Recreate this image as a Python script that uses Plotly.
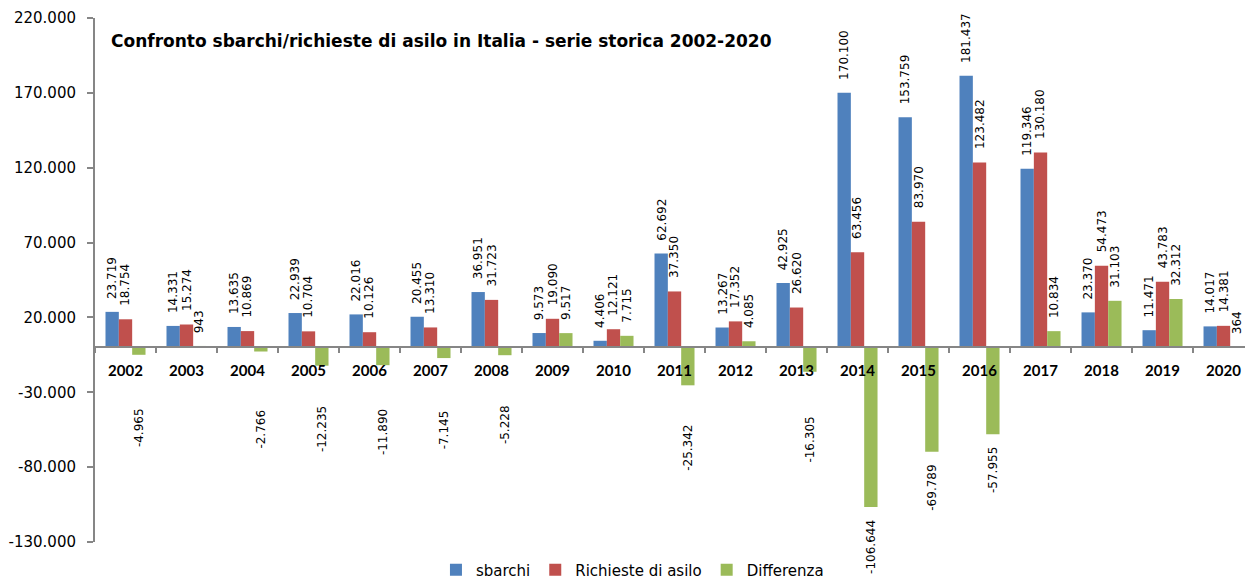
import plotly.graph_objects as go

# Arrivi via mare e richieste di asilo in Italia, 2002-2020
anni = ["2002", "2003", "2004", "2005", "2006", "2007", "2008", "2009", "2010",
        "2011", "2012", "2013", "2014", "2015", "2016", "2017", "2018", "2019", "2020"]
sbarchi = [23719, 14331, 13635, 22939, 22016, 20455, 36951, 9573, 4406,
           62692, 13267, 42925, 170100, 153759, 181437, 119346, 23370, 11471, 14017]
richieste = [18754, 15274, 10869, 10704, 10126, 13310, 31723, 19090, 12121,
             37350, 17352, 26620, 63456, 83970, 123482, 130180, 54473, 43783, 14381]
differenza = [-4965, 943, -2766, -12235, -11890, -7145, -5228, 9517, 7715,
              -25342, 4085, -16305, -106644, -69789, -57955, 10834, 31103, 32312, 364]

y_ticks = [-130000, -80000, -30000, 20000, 70000, 120000, 170000, 220000]

# label placement for short negative bars, moved clear of the year labels
neg_label_top = {"2002": -39000, "2004": -40000, "2005": -38000, "2006": -40000,
                 "2007": -40500, "2008": -37000, "2011": -50500, "2013": -45000}

FONT = "Lato, 'Open Sans', sans-serif"
WIDE = "'DejaVu Sans', sans-serif"
AXIS_GREY = "#868686"
BARGAP = 0.344

W, H = 1245, 580
M_L, M_R, M_T, M_B = 95, 0, 18, 38


def fmt(v):
    return f"{v:,}".replace(",", ".")


series = [
    ("sbarchi", sbarchi, "#4F81BD"),
    ("Richieste di asilo", richieste, "#C0504D"),
    ("Differenza", differenza, "#9BBB59"),
]

fig = go.Figure()
for name, vals, col in series:
    fig.add_trace(go.Bar(x=anni, y=vals, name=name, marker=dict(color=col, line=dict(width=0))))

# value labels, rotated, sitting beyond the end of each bar
bar_w = (1 - BARGAP) / 3
label_font = dict(family=WIDE, size=12, color="#000")
annotations = []
for k, (name, vals, col) in enumerate(series):
    for i, (anno, v) in enumerate(zip(anni, vals)):
        xpos = i + (k - 1) * bar_w
        if v >= 0:
            annotations.append(dict(x=xpos, y=v, xref="x", yref="y", text=fmt(v),
                                    textangle=-90, showarrow=False, yanchor="bottom",
                                    xanchor="center", yshift=11, font=label_font))
        else:
            if k == 2 and anno in neg_label_top:
                ypos, ysh = neg_label_top[anno], 0
            else:
                ypos, ysh = v, -11
            annotations.append(dict(x=xpos, y=ypos, xref="x", yref="y", text=fmt(v),
                                    textangle=-90, showarrow=False, yanchor="top",
                                    xanchor="center", yshift=ysh, font=label_font))

# chart title inside the plot area (paper coords from pixel offsets)
plot_w, plot_h = W - M_L - M_R, H - M_T - M_B
annotations.append(dict(x=(109 - M_L) / plot_w, y=1 - (41 - M_T) / plot_h,
                        xref="paper", yref="paper",
                        text="<b>Confronto sbarchi/richieste di asilo in Italia - serie storica 2002-2020</b>",
                        showarrow=False, xanchor="left", yanchor="middle",
                        font=dict(family=WIDE, size=17, color="#000")))

fig.update_layout(
    width=W, height=H,
    margin=dict(l=M_L, r=M_R, t=M_T, b=M_B, autoexpand=False),
    paper_bgcolor="white", plot_bgcolor="white",
    barmode="group", bargap=BARGAP, bargroupgap=0,
    font=dict(family=FONT, size=15, color="#000"),
    showlegend=True,
    legend=dict(orientation="h", xref="container", yref="container",
                x=0.508, xanchor="center", y=1 - 570 / H, yanchor="middle",
                font=dict(family=WIDE, size=15), traceorder="normal"),
    annotations=annotations,
)

fig.update_xaxes(
    type="category", range=[-0.5, 18.352],
    anchor="free", position=130000 / 350000,
    showline=True, linecolor=AXIS_GREY, linewidth=2,
    ticks="outside", tickson="boundaries", ticklen=5, tickcolor=AXIS_GREY, tickwidth=2,
    tickfont=dict(family=FONT, size=15, color="#000", weight="bold"),
    ticklabelstandoff=10,
    showgrid=False, zeroline=False,
)
fig.update_yaxes(
    range=[-130000, 220000],
    tickvals=y_ticks, ticktext=[fmt(v) for v in y_ticks],
    showline=True, linecolor=AXIS_GREY, linewidth=2,
    ticks="outside", ticklen=6, tickcolor=AXIS_GREY, tickwidth=2,
    tickfont=dict(family=WIDE, size=15, color="#000"),
    ticklabelstandoff=8,
    showgrid=False, zeroline=False,
)

fig.write_html("out.html")
